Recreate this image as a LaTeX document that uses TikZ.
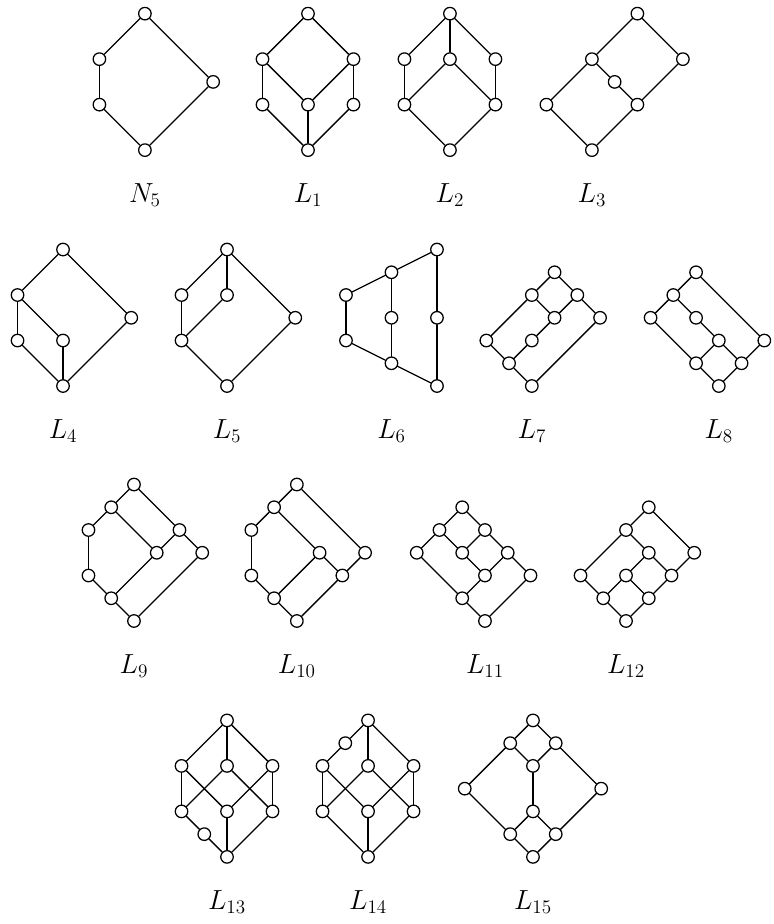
\documentclass[tikz,border=0pt]{standalone}
\usepackage{amsmath}

\tikzset{
  vtx/.style={circle, draw=black, fill=white, inner sep=0pt, minimum size=0.33cm},
  lname/.style={anchor=base, font=\fontsize{20}{24}\selectfont}
}

% #1,#2 bottom element, #3 label name, #4 label, #5 label x, #6 nodes and edges
\newcommand{\hasse}[6]{%
  \begin{scope}[shift={(#1,#2)}]
    #6
    \node[lname] (#3) at (#5,-2.3) {#4};
  \end{scope}
}

\begin{document}
\begin{tikzpicture}[x=0.6cm, y=0.6cm, line width=0.95pt, line cap=round, line join=round]
  \useasboundingbox (0,0) rectangle (34.02,40.62);

  % first row
  \hasse{6.37}{34.02}{labN}{$N_5$}{0}{
    \foreach \n/\p in {n0/{(0,0)}, n1/{(-2,2)}, n2/{(-2,4)}, n3/{(3,3)}, n4/{(0,6)}}
      \node[vtx] (\n) at \p {};
    \foreach \a/\b in {n0/n1, n1/n2, n2/n4, n0/n3, n3/n4}
      \draw (\a) -- (\b);
  }

  \hasse{13.54}{34.02}{labA}{$L_1$}{0}{
    \foreach \n/\p in {a0/{(0,0)}, a1/{(-2,2)}, a2/{(0,2)}, a3/{(2,2)}, a4/{(-2,4)}, a5/{(2,4)}, a6/{(0,6)}}
      \node[vtx] (\n) at \p {};
    \foreach \a/\b in {a0/a1, a0/a2, a0/a3, a1/a4, a2/a4, a2/a5, a3/a5, a4/a6, a5/a6}
      \draw (\a) -- (\b);
  }

  \hasse{19.78}{34.02}{labB}{$L_2$}{0}{
    \foreach \n/\p in {b0/{(0,0)}, b1/{(-2,2)}, b2/{(2,2)}, b3/{(-2,4)}, b4/{(0,4)}, b5/{(2,4)}, b6/{(0,6)}}
      \node[vtx] (\n) at \p {};
    \foreach \a/\b in {b0/b1, b0/b2, b1/b3, b1/b4, b2/b4, b2/b5, b3/b6, b4/b6, b5/b6}
      \draw (\a) -- (\b);
  }

  \hasse{26.02}{34.02}{labC}{$L_3$}{0}{
    \foreach \n/\p in {c0/{(0,0)}, c1/{(-2,2)}, c2/{(2,2)}, c3/{(1,3)}, c4/{(0,4)}, c5/{(4,4)}, c6/{(2,6)}}
      \node[vtx] (\n) at \p {};
    \foreach \a/\b in {c0/c1, c0/c2, c1/c4, c2/c3, c3/c4, c2/c5, c4/c6, c5/c6}
      \draw (\a) -- (\b);
  }

  % second row
  \hasse{2.77}{23.65}{labD}{$L_4$}{0}{
    \foreach \n/\p in {d0/{(0,0)}, d1/{(-2,2)}, d2/{(0,2)}, d3/{(-2,4)}, d4/{(3,3)}, d5/{(0,6)}}
      \node[vtx] (\n) at \p {};
    \foreach \a/\b in {d0/d1, d0/d2, d0/d4, d1/d3, d2/d3, d3/d5, d4/d5}
      \draw (\a) -- (\b);
  }

  \hasse{9.98}{23.65}{labE}{$L_5$}{0}{
    \foreach \n/\p in {e0/{(0,0)}, e1/{(-2,2)}, e2/{(-2,4)}, e3/{(0,4)}, e4/{(3,3)}, e5/{(0,6)}}
      \node[vtx] (\n) at \p {};
    \foreach \a/\b in {e0/e1, e0/e4, e1/e2, e1/e3, e2/e5, e3/e5, e4/e5}
      \draw (\a) -- (\b);
  }

  \hasse{19.21}{23.65}{labF}{$L_6$}{-2}{
    \foreach \n/\p in {f0/{(0,0)}, f1/{(0,3)}, f2/{(0,6)}, f3/{(-2,1)}, f4/{(-2,3)}, f5/{(-2,5)}, f6/{(-4,2)}, f7/{(-4,4)}}
      \node[vtx] (\n) at \p {};
    \foreach \a/\b in {f0/f1, f1/f2, f0/f3, f3/f4, f4/f5, f5/f2, f3/f6, f6/f7, f7/f5}
      \draw (\a) -- (\b);
  }

  \hasse{23.38}{23.65}{labG}{$L_7$}{0}{
    \foreach \n/\p in {g0/{(0,0)}, g1/{(-1,1)}, g2/{(-2,2)}, g3/{(0,2)}, g4/{(1,3)}, g5/{(3,3)}, g6/{(0,4)}, g7/{(2,4)}, g8/{(1,5)}}
      \node[vtx] (\n) at \p {};
    \foreach \a/\b in {g0/g1, g0/g5, g1/g2, g1/g3, g2/g6, g3/g4, g4/g6, g4/g7, g5/g7, g6/g8, g7/g8}
      \draw (\a) -- (\b);
  }

  \hasse{31.60}{23.65}{labH}{$L_8$}{0}{
    \foreach \n/\p in {h0/{(0,0)}, h1/{(-1,1)}, h2/{(1,1)}, h3/{(0,2)}, h4/{(2,2)}, h5/{(-1,3)}, h6/{(-3,3)}, h7/{(-2,4)}, h8/{(-1,5)}}
      \node[vtx] (\n) at \p {};
    \foreach \a/\b in {h0/h1, h0/h2, h1/h3, h2/h3, h2/h4, h1/h6, h3/h5, h5/h7, h6/h7, h7/h8, h4/h8}
      \draw (\a) -- (\b);
  }

  % third row
  \hasse{5.89}{13.32}{labI}{$L_9$}{0}{
    \foreach \n/\p in {i0/{(0,0)}, i1/{(-1,1)}, i2/{(-2,2)}, i3/{(1,3)}, i4/{(3,3)}, i5/{(-2,4)}, i6/{(2,4)}, i7/{(-1,5)}, i8/{(0,6)}}
      \node[vtx] (\n) at \p {};
    \foreach \a/\b in {i0/i1, i0/i4, i1/i2, i1/i3, i2/i5, i5/i7, i7/i3, i7/i8, i3/i6, i6/i8, i4/i6}
      \draw (\a) -- (\b);
  }

  \hasse{13.05}{13.32}{labJ}{$L_{10}$}{0}{
    \foreach \n/\p in {j0/{(0,0)}, j1/{(-1,1)}, j2/{(-2,2)}, j3/{(2,2)}, j4/{(1,3)}, j5/{(3,3)}, j6/{(-2,4)}, j7/{(-1,5)}, j8/{(0,6)}}
      \node[vtx] (\n) at \p {};
    \foreach \a/\b in {j0/j1, j0/j3, j1/j2, j1/j4, j2/j6, j6/j7, j7/j4, j4/j3, j3/j5, j5/j8, j7/j8}
      \draw (\a) -- (\b);
  }

  \hasse{21.32}{13.32}{labK}{$L_{11}$}{0}{
    \foreach \n/\p in {k0/{(0,0)}, k1/{(-1,1)}, k2/{(2,2)}, k3/{(0,2)}, k4/{(1,3)}, k5/{(-1,3)}, k6/{(-3,3)}, k7/{(-2,4)}, k8/{(0,4)}, k9/{(-1,5)}}
      \node[vtx] (\n) at \p {};
    \foreach \a/\b in {k0/k1, k0/k2, k1/k6, k1/k3, k3/k5, k3/k4, k4/k2, k4/k8, k5/k7, k5/k8, k6/k7, k7/k9, k8/k9}
      \draw (\a) -- (\b);
  }

  \hasse{27.52}{13.32}{labM}{$L_{12}$}{0}{
    \foreach \n/\p in {m0/{(0,0)}, m1/{(-1,1)}, m2/{(1,1)}, m3/{(-2,2)}, m4/{(0,2)}, m5/{(2,2)}, m6/{(1,3)}, m7/{(3,3)}, m8/{(0,4)}, m9/{(1,5)}}
      \node[vtx] (\n) at \p {};
    \foreach \a/\b in {m0/m1, m0/m2, m1/m3, m1/m4, m2/m4, m2/m5, m4/m6, m5/m6, m5/m7, m3/m8, m6/m8, m8/m9, m7/m9}
      \draw (\a) -- (\b);
  }

  % fourth row
  \hasse{9.98}{2.95}{labP}{$L_{13}$}{0}{
    \foreach \n/\p in {p0/{(0,0)}, p1/{(-1,1)}, p2/{(-2,2)}, p3/{(0,2)}, p4/{(2,2)}, p5/{(-2,4)}, p6/{(0,4)}, p7/{(2,4)}, p8/{(0,6)}}
      \node[vtx] (\n) at \p {};
    \foreach \a/\b in {p0/p1, p1/p2, p0/p3, p0/p4, p2/p5, p2/p6, p3/p5, p3/p7, p4/p6, p4/p7, p5/p8, p6/p8, p7/p8}
      \draw (\a) -- (\b);
  }

  \hasse{16.18}{2.95}{labQ}{$L_{14}$}{0}{
    \foreach \n/\p in {q0/{(0,0)}, q1/{(-2,2)}, q2/{(0,2)}, q3/{(2,2)}, q4/{(-2,4)}, q5/{(0,4)}, q6/{(2,4)}, q7/{(-1,5)}, q8/{(0,6)}}
      \node[vtx] (\n) at \p {};
    \foreach \a/\b in {q0/q1, q0/q2, q0/q3, q1/q4, q1/q5, q2/q4, q2/q6, q3/q5, q3/q6, q4/q7, q7/q8, q5/q8, q6/q8}
      \draw (\a) -- (\b);
  }

  \hasse{23.43}{2.95}{labR}{$L_{15}$}{0}{
    \foreach \n/\p in {r0/{(0,0)}, r1/{(-1,1)}, r2/{(1,1)}, r3/{(0,2)}, r4/{(-3,3)}, r5/{(3,3)}, r6/{(0,4)}, r7/{(-1,5)}, r8/{(1,5)}, r9/{(0,6)}}
      \node[vtx] (\n) at \p {};
    \foreach \a/\b in {r0/r1, r0/r2, r1/r3, r2/r3, r1/r4, r2/r5, r3/r6, r6/r7, r6/r8, r4/r7, r5/r8, r7/r9, r8/r9}
      \draw (\a) -- (\b);
  }
\end{tikzpicture}
\end{document}
